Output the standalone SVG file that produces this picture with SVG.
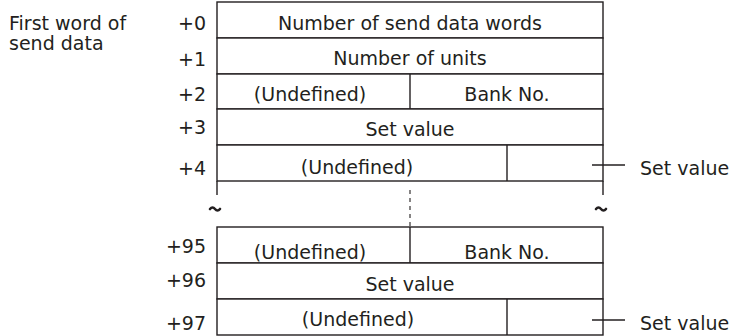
<svg xmlns="http://www.w3.org/2000/svg" width="730" height="336" viewBox="0 0 730 336">
<style>
text{font-family:"DejaVu Sans","Liberation Sans",Arial,sans-serif;font-size:19px;fill:#231f20}
.c{text-anchor:middle}
.r{text-anchor:end}
.box{fill:#fff;stroke:#231f20;stroke-width:1.4}
.ln{stroke:#231f20;stroke-width:1.4;fill:none}
.dash{stroke:#231f20;stroke-width:1.1;stroke-dasharray:4 4;fill:none}
.brk{stroke:#231f20;stroke-width:2.6;fill:none;stroke-linecap:round}
</style>
<g id="label-first">
<text x="9" y="29.5">First word of</text>
<text x="9" y="49.5">send data</text>
</g>
<g id="row0"><rect class="box" x="217" y="2" width="386" height="36"/><text class="r" x="206" y="29.5">+0</text><text class="c" x="410" y="29.5">Number of send data words</text></g>
<g id="row1"><rect class="box" x="217" y="38" width="386" height="36"/><text class="r" x="206" y="65.5">+1</text><text class="c" x="410" y="64.5">Number of units</text></g>
<g id="row2"><rect class="box" x="217" y="74" width="386" height="35"/><line class="ln" x1="410" y1="74" x2="410" y2="109"/><text class="r" x="206" y="101">+2</text><text class="c" x="310" y="100.5">(Undefined)</text><text class="c" x="507" y="100.5">Bank No.</text></g>
<g id="row3"><rect class="box" x="217" y="109" width="386" height="36"/><text class="r" x="206" y="134">+3</text><text class="c" x="410" y="136">Set value</text></g>
<g id="row4"><rect class="box" x="217" y="145" width="386" height="36"/><line class="ln" x1="507" y1="145" x2="507" y2="181"/><text class="r" x="206" y="175">+4</text><text class="c" x="357" y="174">(Undefined)</text></g>
<g id="break">
<line class="ln" x1="217" y1="181" x2="217" y2="195"/>
<line class="ln" x1="603" y1="181" x2="603" y2="195"/>
<line class="dash" x1="410" y1="190" x2="410" y2="227"/>
<path class="brk" d="M210 209 q2.5 -3 5 0 t5 0"/>
<path class="brk" d="M596 209 q2.5 -3 5 0 t5 0"/>
</g>
<g id="row95"><rect class="box" x="217" y="227" width="386" height="36"/><line class="ln" x1="410" y1="227" x2="410" y2="263"/><text class="r" x="206" y="253">+95</text><text class="c" x="310" y="259">(Undefined)</text><text class="c" x="507" y="259">Bank No.</text></g>
<g id="row96"><rect class="box" x="217" y="263" width="386" height="36"/><text class="r" x="206" y="287">+96</text><text class="c" x="410" y="291">Set value</text></g>
<g id="row97"><rect class="box" x="217" y="299" width="386" height="36"/><line class="ln" x1="507" y1="299" x2="507" y2="335"/><text class="r" x="206" y="329.5">+97</text><text class="c" x="358" y="325.5">(Undefined)</text></g>
<g id="connectors">
<line class="ln" x1="592" y1="165" x2="625" y2="165"/>
<line class="ln" x1="592" y1="320" x2="625" y2="320"/>
</g>
<g id="callouts">
<text x="640" y="174.5">Set value</text>
<text x="640" y="329.5">Set value</text>
</g>
</svg>
